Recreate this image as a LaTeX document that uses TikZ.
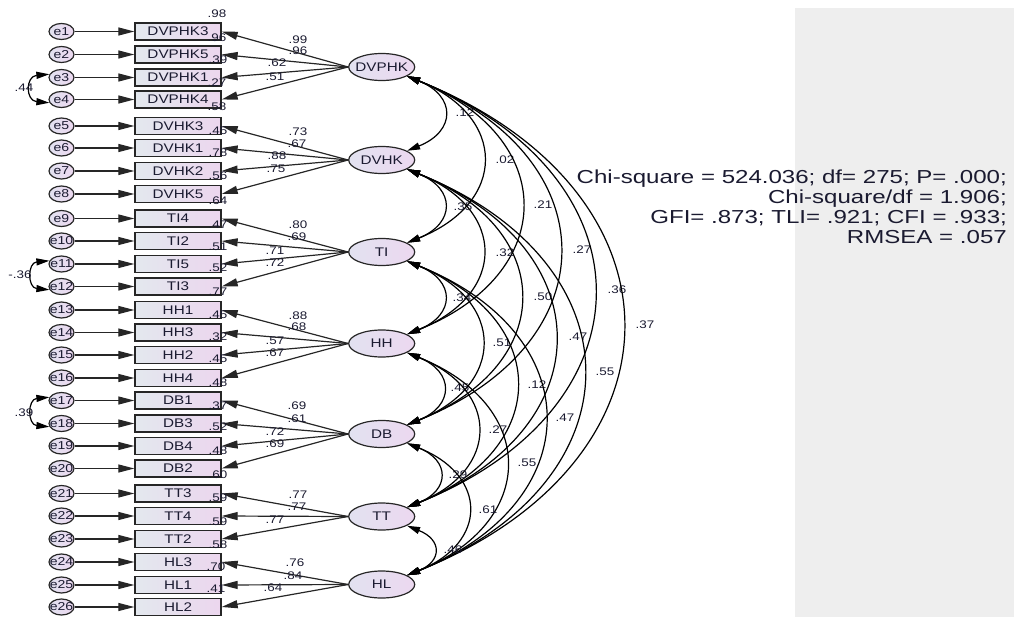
\documentclass[tikz,border=0pt]{standalone}
\usepackage{fontspec}
\setmainfont{Liberation Sans}
\newfontfamily\lbl[FakeStretch=1.22]{Liberation Sans}
\newfontfamily\fitfont[FakeStretch=1.28]{Liberation Sans}
\usetikzlibrary{arrows.meta,calc,shapes.geometric}
\definecolor{linec}{HTML}{262626}
\definecolor{txt}{HTML}{1A1A30}
\definecolor{boxL}{HTML}{E3E8EE}
\definecolor{boxR}{HTML}{ECD6EE}
\definecolor{latL}{HTML}{E2E2F0}
\definecolor{latR}{HTML}{ECD8F0}
\definecolor{greybg}{HTML}{EEEEEE}
\tikzset{
  err/.style={ellipse, draw=linec, line width=1.2pt, minimum width=25pt, minimum height=16pt,
    inner sep=0pt, left color=latL, right color=latR, text=txt, font=\lbl\fontsize{11.5}{12}\selectfont},
  obs/.style={rectangle, draw=linec, line width=1.3pt, minimum width=86pt, minimum height=17pt,
    inner sep=0pt, left color=boxL, right color=boxR, text=txt, font=\lbl\fontsize{12.5}{13}\selectfont},
  lat/.style={ellipse, draw=linec, line width=1.2pt, minimum width=66pt, minimum height=27pt,
    inner sep=0pt, left color=latL, right color=latR, text=txt, font=\lbl\fontsize{12.5}{13}\selectfont},
  num/.style={inner sep=0pt, text=txt, font=\lbl\fontsize{11}{12}\selectfont},
  arr/.style={draw=linec, line width=1.2pt, -{Triangle[length=16pt,width=8pt]}},
  dbl/.style={draw=black, line width=1.2pt, {Triangle[length=13pt,width=7pt]}-{Triangle[length=13pt,width=7pt]}}
}
\begin{document}
\begin{tikzpicture}[x=1pt,y=-1pt]
\useasboundingbox (0,0) rectangle (1014,618);
\fill[greybg] (795,8) rectangle (1014,617);

% observed variables and errors
\foreach \i/\nm/\y in {1/DVPHK3/31.5, 2/DVPHK5/54.5, 3/DVPHK1/77.5, 4/DVPHK4/99.5,
  5/DVHK3/126, 6/DVHK1/148, 7/DVHK2/171, 8/DVHK5/194,
  9/TI4/218.5, 10/TI2/241, 11/TI5/264, 12/TI3/286.5,
  13/HH1/310, 14/HH3/332.5, 15/HH2/355, 16/HH4/378,
  17/DB1/400.5, 18/DB3/423.5, 19/DB4/446, 20/DB2/468.5,
  21/TT3/493.5, 22/TT4/516, 23/TT2/539,
  24/HL3/562, 25/HL1/585, 26/HL2/607}{
  \node[err] (e\i) at (61.5,\y) {\makebox[0pt]{e\i}};
  \node[obs] (o\i) at (178,\y) {\nm};
  \draw[arr] (e\i) -- (o\i);
}

% latent variables
\foreach \k/\nm/\y in {1/DVPHK/67, 2/DVHK/160, 3/TI/252, 4/HH/343.5, 5/DB/434, 6/TT/516.5, 7/HL/584.5}{
  \node[lat] (L\k) at (381.7,\y) {\makebox[0pt]{\nm}};
}

% loadings
\foreach \k/\j/\lab/\lx/\ly in {
  1/1/.99/298/40, 1/2/.96/298/51, 1/3/.62/277/63, 1/4/.51/275/77,
  2/5/.73/298/132, 2/6/.67/297/144, 2/7/.88/277/156, 2/8/.75/276/169,
  3/9/.80/298/225, 3/10/.69/297/237, 3/11/.71/275/251, 3/12/.72/275/263,
  4/13/.88/298/316, 4/14/.68/297/327, 4/15/.57/275/341, 4/16/.67/275/353,
  5/17/.69/297/406, 5/18/.61/297/419, 5/19/.72/275/432, 5/20/.69/275/444,
  6/21/.77/298/495, 6/22/.77/297/507, 6/23/.77/275/520,
  7/24/.76/295/563, 7/25/.84/293/576, 7/26/.64/273/588}{
  \draw[arr] (L\k.west) -- (o\j.east);
  \node[num] (w\j) at (\lx,\ly) {\lab};
}

% squared multiple correlations
\node[num] (r0) at (217,14) {.98};
\foreach \j/\lab/\lx/\ly in {
  1/.96/217/38, 2/.39/218/60, 3/.27/217/83, 4/.58/217/107,
  5/.45/218/131, 6/.78/218/153, 7/.56/218/176, 8/.64/218/201,
  9/.47/218/225, 10/.51/218/247, 11/.52/218/268, 12/.77/218/292,
  13/.45/218/315, 14/.32/218/337, 15/.45/218/359, 16/.48/218/383,
  17/.37/218/406, 18/.52/218/427, 19/.48/218/451, 20/.60/218/475,
  21/.59/218/498, 22/.59/218/522, 23/.58/218/545,
  24/.70/216/567, 25/.41/216/589}{
  \node[num] (r\j) at (\lx,\ly) {\lab};
}

% covariances among latents
\foreach \i/\j/\d/\lab/\lx/\ly in {
  1/2/93/.12/465/113, 1/3/185/.02/505/160, 1/4/277/.21/543/205,
  1/5/367/.27/582/250, 1/6/449/.36/617/290, 1/7/517/.37/645/325,
  2/3/92/.35/463/207, 2/4/184/.32/505/253, 2/5/274/.50/543/297,
  2/6/356/.47/578/337, 2/7/424/.55/605/372,
  3/4/92/.34/462/298, 3/5/182/.51/502/343, 3/6/264/.12/537/385, 3/7/332/.47/565/418,
  4/5/90/.45/460/388, 4/6/172/.27/498/430, 4/7/240/.55/527/463,
  5/6/82/.29/458/475, 5/7/150/.61/488/510,
  6/7/68/.46/453/550}{
  \pgfmathsetmacro\cc{0.56*\d-3}
  \pgfmathsetmacro\aa{0.4*\cc}
  \draw[dbl] (L\i.-20) .. controls ($(L\i.-20)+(\cc,\aa)$) and ($(L\j.20)+(\cc,-\aa)$) .. (L\j.20);
  \node[num] (c\i\j) at (\lx,\ly) {\lab};
}

% error covariances
\draw[dbl] (e3.165) .. controls ($(e3.165)+(-24,2)$) and ($(e4.195)+(-24,-2)$) .. (e4.195);
\node[num] (ce34) at (24,88) {.44};
\draw[dbl] (e11.165) .. controls ($(e11.165)+(-22,2)$) and ($(e12.195)+(-22,-2)$) .. (e12.195);
\node[num] (ce1112) at (20,275) {-.36};
\draw[dbl] (e17.165) .. controls ($(e17.165)+(-22,2)$) and ($(e18.195)+(-22,-2)$) .. (e18.195);
\node[num] (ce1718) at (24,413) {.39};

% fit indices
\node[anchor=north east, align=right, inner sep=0pt, text=txt,
  font=\fitfont\fontsize{18.8}{20}\selectfont] (fit) at (1007,170)
  {Chi-square = 524.036; df= 275; P= .000;\\ Chi-square/df = 1.906;\\ GFI= .873; TLI= .921; CFI = .933;\\ RMSEA = .057};
\end{tikzpicture}
\end{document}
